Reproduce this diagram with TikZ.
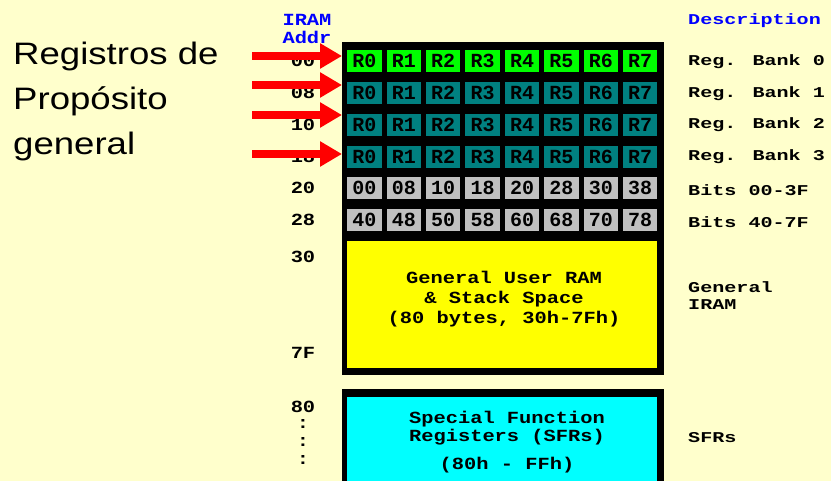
\documentclass[tikz,border=0pt]{standalone}
\usepackage{fontspec}
\setmainfont{Liberation Sans}
\usetikzlibrary{arrows.meta}
\newfontfamily\pixA[FakeStretch=1.2]{Liberation Mono}
\newfontfamily\pixB[FakeStretch=1.34]{Liberation Mono}
\newfontfamily\pixC{Liberation Mono}
\newfontfamily\bigsans[FakeStretch=1.18]{Liberation Sans}
\definecolor{bg}{HTML}{FFFFCC}
\definecolor{teal8}{HTML}{008080}
\definecolor{grn}{HTML}{00FF00}
\definecolor{gry}{HTML}{C0C0C0}
\definecolor{ylw}{HTML}{FFFF00}
\definecolor{cyn}{HTML}{00FFFF}
\definecolor{arr}{HTML}{FF0000}
\definecolor{blu}{HTML}{0000FF}
\begin{document}
\begin{tikzpicture}[x=1pt,y=-1pt,
  cellbox/.style={minimum width=34.4pt, minimum height=22pt, inner sep=0pt, anchor=north west, font=\pixC\bfseries\fontsize{20}{20}\selectfont},
  addr/.style={font=\pixA\bfseries\fontsize{17}{17}\selectfont, inner sep=0pt},
  desc/.style={font=\pixB\bfseries\fontsize{15}{15}\selectfont, inner sep=0pt, anchor=west},
  bigtxt/.style={font=\bigsans\fontsize{31}{31}\selectfont, inner sep=0pt, anchor=base west},
  boxtxt/.style={font=\pixA\bfseries\fontsize{17}{20}\selectfont, inner sep=0pt, align=center},
  redarrow/.style={draw=arr, line width=8pt, -{Triangle[length=22pt,width=24pt]}},
  frame/.style={fill=black, inner sep=0pt, anchor=north west},
]
\fill[bg] (0,0) rectangle (831,481);
\useasboundingbox (0,0) rectangle (831,481);
\clip (0,0) rectangle (831,481);

% frames
\node[frame, minimum width=322pt, minimum height=333pt] (fr1) at (342,42) {};
\node[frame, minimum width=322pt, minimum height=110pt] (fr2) at (342,389) {};
\node[fill=ylw, inner sep=0pt, anchor=north west, minimum width=310pt, minimum height=127pt] (ram) at (347,241) {};
\node[fill=cyn, inner sep=0pt, anchor=north west, minimum width=310pt, minimum height=100pt] (sfr) at (347,397) {};

% register cells
\foreach \r/\col in {0/grn,1/teal8,2/teal8,3/teal8}{
  \foreach \c in {0,...,7}{
    \node[cellbox, fill=\col] (c\r\c) at ({347+\c*39.4},{50+\r*31.8}) {R\c};
  }
}
\foreach \c/\t in {0/00,1/08,2/10,3/18,4/20,5/28,6/30,7/38}{
  \node[cellbox, fill=gry] (c4\c) at ({347+\c*39.4},{50+4*31.8}) {\t};
}
\foreach \c/\t in {0/40,1/48,2/50,3/58,4/60,5/68,6/70,7/78}{
  \node[cellbox, fill=gry] (c5\c) at ({347+\c*39.4},{50+5*31.8}) {\t};
}

% box texts
\node[boxtxt] (ramtxt) at (504,299) {General User RAM\\ \& Stack Space\\ (80 bytes, 30h-7Fh)};
\node[boxtxt, font=\pixA\bfseries\fontsize{17}{18}\selectfont] (sfrtxt) at (507,442) {Special Function\\ Registers (SFRs)\\[10pt] (80h - FFh)};

% addresses
\node[addr, text=blu] (iram) at (307,20) {IRAM};
\node[addr, text=blu] (addrh) at (307,37) {Addr};
\foreach \i/\t in {0/00,1/08,2/10,3/18,4/20,5/28}{
  \node[addr] (a\i) at (303,{61+\i*31.8}) {\t};
}
\node[addr] (a30) at (303,257) {30};
\node[addr] (a7f) at (303,353) {7F};
\node[addr] (a80) at (303,407) {80};
\node[addr] (d1) at (303,424) {:};
\node[addr] (d2) at (303,442) {:};
\node[addr] (d3) at (303,460) {:};

% descriptions
\node[desc, text=blu] (dh) at (688,21) {Description};
\node[desc] (r0) at (688,62) {Reg. Bank 0};
\node[desc] (r1) at (688,94) {Reg. Bank 1};
\node[desc] (r2) at (688,125) {Reg. Bank 2};
\node[desc] (r3) at (688,157) {Reg. Bank 3};
\node[desc] (b1) at (688,190) {Bits 00-3F};
\node[desc] (b2) at (688,222) {Bits 40-7F};
\node[desc] (gi1) at (688,287) {General};
\node[desc] (gi2) at (688,305) {IRAM};
\node[desc] (sf) at (688,438) {SFRs};

% left text
\node[bigtxt] (l1) at (13,65) {Registros de};
\node[bigtxt] (l2) at (13,110) {Propósito};
\node[bigtxt] (l3) at (13,155) {general};

% arrows
\coordinate (t1) at (252,56);  \coordinate (h1) at (342,56);
\coordinate (t2) at (252,85);  \coordinate (h2) at (342,85);
\coordinate (t3) at (252,115); \coordinate (h3) at (342,115);
\coordinate (t4) at (252,154); \coordinate (h4) at (342,154);
\foreach \k in {1,2,3,4}{ \draw[redarrow] (t\k) -- (h\k); }
\end{tikzpicture}
\end{document}
